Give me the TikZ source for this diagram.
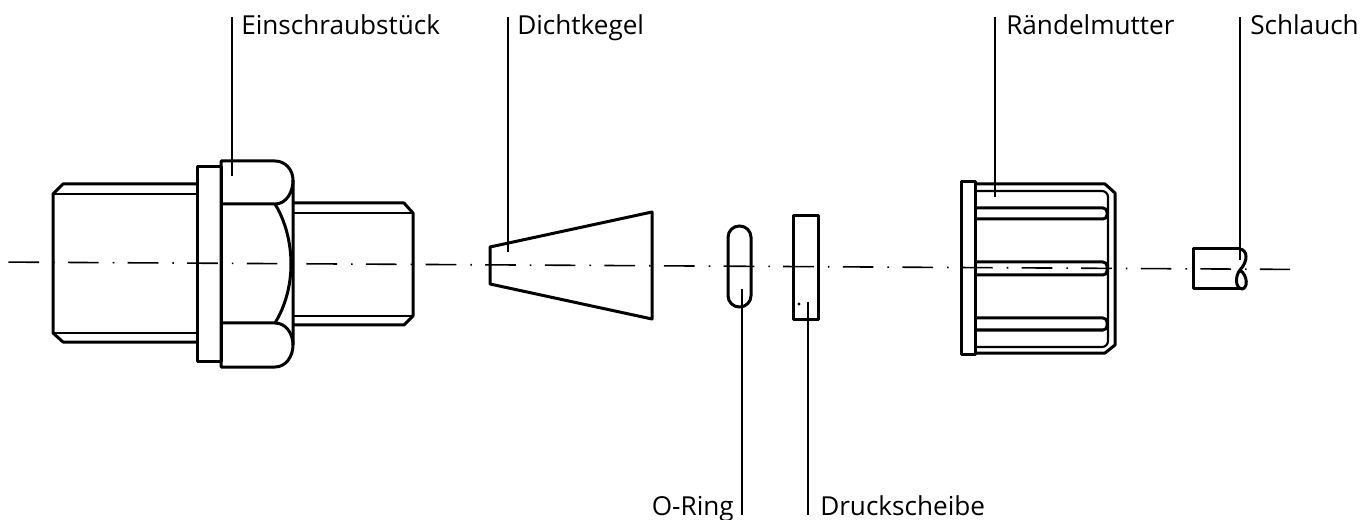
\documentclass[tikz,border=0pt]{standalone}
\usepackage{fontspec}
\setmainfont{Open Sans}
\tikzset{part/.style={line width=2.25pt,line join=round},
    inner/.style={line width=1.6pt},
    leader/.style={line width=1.2pt},
    axis/.style={line width=1.2pt,dash pattern=on 23pt off 10.5pt on 1.2pt off 10pt},
    lbl/.style={inner sep=0pt,text height=13.5pt,text depth=0pt,font=\fontsize{19.6}{22}\selectfont}}

\begin{document}
\begin{tikzpicture}[x=0.75pt,y=-0.75pt]
    \useasboundingbox (0,0) rectangle (1360,520);
    \coordinate (axisL) at (8.4,262.1);
    \coordinate (axisR) at (1290,269.4);
    \draw[axis] (axisL) -- (axisR);
    % Einschraubstueck
    \draw[part] (197,184) -- (63,184) -- (53,194) -- (53,333) -- (63,342) -- (197,342);
    \draw[inner] (53,194) -- (197,194) (53,333) -- (197,333);
    \draw[part] (197,167) rectangle (221,361);
    \draw[part] (221,161) -- (275,161) to[out=0,in=90] (293,180) -- (293,345)
        to[out=-90,in=0] (275,367) -- (221,367) -- cycle;
    \draw[part] (221,204) -- (275,204) to[out=0,in=-90] (293,180);
    \draw[part] (221,323) -- (275,323) to[out=0,in=90] (293,345);
    \draw[part] (275,204) .. controls (286,222) and (291,244) .. (291,264)
        .. controls (291,284) and (286,305) .. (275,323);
    \draw[part] (293,203) -- (404,203) -- (413,213) -- (413,316) -- (404,325) -- (293,325);
    \draw[inner] (293,213) -- (413,213) (293,316) -- (413,316);
    % Dichtkegel
    \draw[part] (490,247) -- (652,212) -- (652,319) -- (490,284) -- cycle;
    % O-Ring
    \draw[part,rounded corners=8.5pt] (728,226) rectangle (751,307);
    % Druckscheibe
    \draw[part] (793.4,215.4) rectangle (818.4,319.4);
    \fill (799,304) circle (1.6);
    % Raendelmutter
    \draw[part] (961,182) rectangle (975,354);
    \draw[part] (975,184) -- (1105,184) -- (1115,193) -- (1115,345) -- (1105,353) -- (975,353);
    \draw[inner] (975,191) -- (1102,191) to[out=0,in=90] (1108,197) -- (1108,341)
        to[out=-90,in=0] (1102,347) -- (975,347);
    \foreach \slotT/\slotB in {208/219,262/275,318/330}
        \draw[part,rounded corners=3pt] (975,\slotT) -- (1107,\slotT) -- (1107,\slotB) -- (975,\slotB);
    % Schlauch
    \draw[part] (1240,249) -- (1193,249) -- (1193,289) -- (1242,289);
    \draw[part] (1240,249) .. controls (1247,250) and (1249,260) .. (1240,270)
        .. controls (1235,276) and (1235,288) .. (1242,289)
        .. controls (1248,288) and (1248,276) .. (1240,270);
    % labels
    \node[lbl,anchor=base west] (einschr) at (241,35) {Einschraubstück};
    \node[lbl,anchor=base west] (kegel) at (517,35) {Dichtkegel};
    \node[lbl,anchor=base west] (mutter) at (1006,35) {Rändelmutter};
    \node[lbl,anchor=base west] (schlauch) at (1250,35) {Schlauch};
    \node[lbl,anchor=base east] (oring) at (734,515) {O-Ring};
    \node[lbl,anchor=base west] (scheibe) at (820,515) {Druckscheibe};
    \coordinate (einschrF) at (232,176);
    \coordinate (kegelF) at (508,252);
    \coordinate (mutterF) at (995,197);
    \coordinate (schlauchF) at (1240,260);
    \coordinate (oringF) at (742,289);
    \coordinate (scheibeF) at (808,302);
    \foreach \name in {einschr,kegel,mutter,schlauch}
        \draw[leader] (\name F) -- (\name F |- \name.north);
    \foreach \name in {oring,scheibe}
        \draw[leader] (\name F) -- (\name F |- \name.base);
\end{tikzpicture}
\end{document}
